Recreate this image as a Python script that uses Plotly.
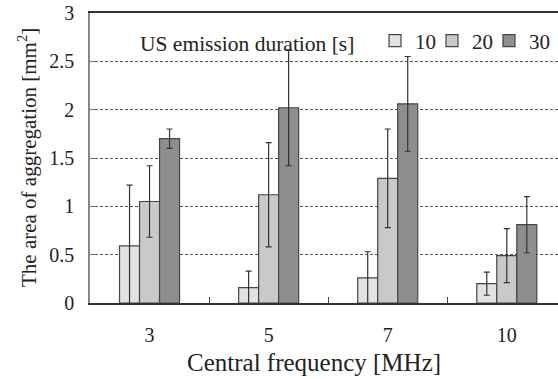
import plotly.graph_objects as go

categories = ["3", "5", "7", "10"]
durations = ["10", "20", "30"]
values_10 = [0.59, 0.16, 0.26, 0.20]
errors_10 = [0.63, 0.17, 0.27, 0.12]
values_20 = [1.05, 1.12, 1.29, 0.49]
errors_20 = [0.37, 0.54, 0.51, 0.28]
values_30 = [1.70, 2.02, 2.06, 0.81]
errors_30 = [0.10, 0.60, 0.49, 0.29]
colors = ["#e2e2e2", "#c9c9c9", "#8e8e8e"]

FONT = "Times New Roman, Liberation Serif, DejaVu Serif, serif"


def py(screen_y):
    return (303 - screen_y) / 290


def px(screen_x):
    return (screen_x - 90) / 468


legend_ids = ["legend", "legend2", "legend3"]
legend_x = [375, 432, 489]

fig = go.Figure()
for name, vals, errs, col, lg in zip(durations, [values_10, values_20, values_30],
                                     [errors_10, errors_20, errors_30], colors,
                                     legend_ids):
    fig.add_trace(go.Bar(
        x=categories, y=vals, name=name, legend=lg,
        marker=dict(color=col, line=dict(color="#454545", width=1.2)),
        error_y=dict(type="data", array=errs, visible=True,
                     color="#333333", thickness=1.2, width=3),
    ))

legend_style = dict(orientation="h", xanchor="left", yanchor="middle",
                    bgcolor="rgba(0,0,0,0)", font=dict(size=21, family=FONT),
                    itemwidth=30)

fig.update_layout(
    width=558, height=379,
    margin=dict(l=90, r=0, t=13, b=76, autoexpand=False),
    paper_bgcolor="white", plot_bgcolor="white",
    barmode="group", bargap=0.496, bargroupgap=0,
    font=dict(family=FONT, size=20, color="#222222"),
    showlegend=True,
    xaxis=dict(type="category", range=[-0.5, 3.43], tickson="boundaries",
               ticks="inside", ticklen=6, tickcolor="#444444",
               showline=True, linecolor="#333333", linewidth=1.5, mirror=True,
               showgrid=False, ticklabelstandoff=13, automargin=False,
               tickfont=dict(size=20, family=FONT)),
    yaxis=dict(range=[0, 3], dtick=0.5, ticks="inside", ticklen=5,
               tickcolor="#777777", showline=True, linecolor="#888888",
               linewidth=1.5, showgrid=True, gridcolor="#555555",
               griddash="3px,2px", gridwidth=1, zeroline=False,
               ticklabelstandoff=10, automargin=False,
               ticklabeloverflow="allow",
               tickfont=dict(size=20, family=FONT)),
)
for lg, lx in zip(legend_ids, legend_x):
    fig.update_layout({lg: dict(legend_style, x=px(lx), y=py(41))})

fig.add_annotation(text="The area of aggregation [mm<sup>2</sup>]",
                   xref="paper", yref="paper", x=px(27), y=py(158),
                   xanchor="center", yanchor="middle", textangle=-90,
                   showarrow=False, font=dict(size=21, family=FONT))
fig.add_annotation(text="US emission duration [s]", xref="paper", yref="paper",
                   x=px(247), y=py(44), xanchor="center", yanchor="middle",
                   showarrow=False, font=dict(size=21.5, family=FONT))
fig.add_annotation(text="Central frequency [MHz]", xref="paper", yref="paper",
                   x=px(314), y=py(362), xanchor="center", yanchor="middle",
                   showarrow=False, font=dict(size=25, family=FONT))

fig.write_html("out.html", config={"displayModeBar": False},
               post_script="document.body.style.margin='0';"
                           "document.documentElement.style.overflow='hidden';"
                           "document.body.style.overflow='hidden';")
